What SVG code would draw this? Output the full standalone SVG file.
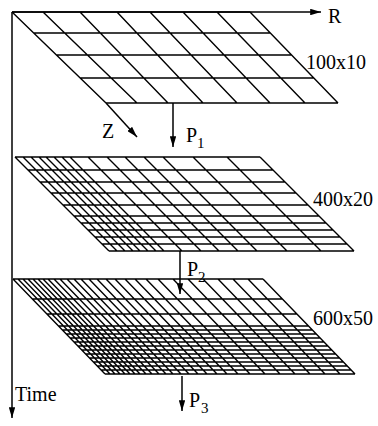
<svg xmlns="http://www.w3.org/2000/svg" width="378" height="426" viewBox="0 0 378 426">
<style>
.g{fill:none;stroke:#000;stroke-width:1.4}
.c{fill:none;stroke:#000;stroke-width:1.5}
.t{font-family:"Liberation Serif","Times New Roman",serif;font-size:20px;fill:#000}
.s{font-family:"Liberation Serif","Times New Roman",serif;font-size:15px;fill:#000}
</style>
<defs>
<marker id="ah" viewBox="0 0 10 6" refX="10" refY="3" markerWidth="11" markerHeight="6.5" markerUnits="userSpaceOnUse" orient="auto">
<path d="M0 0L10 3L0 6z" fill="#000"/>
</marker>
</defs>
<rect width="378" height="426" fill="#fff"/>
<g id="grid1">
<path class="g" d="M12 12H250M33.7 33H270.3M56.4 55H291.6M80.2 78H313.8M106 103H338M12 12L106 103M43 12L137 103M80 12L168 103M117 12L203 103M150 12L237 103M183 12L270 103M217 12L305 103M250 12L338 103"/>
<text class="t" x="306" y="69">100x10</text>
</g>
<g id="grid2">
<path class="g" d="M15 157H260M28 170H273M40 182H285M51 193H296M63 205H308M74 216H319M81 223H326M88 230H333M95 237H340M102 244H347M109 251H354M15 157l94 94M23 157l94 94M31 157l94 94M39 157l94 94M46 157l94 94M54 157l94 94M62 157l94 94M70 157l94 94M88 157l94 94M107 157l94 94M125 157l94 94M144 157l94 94M163 157l94 94M193 157l94 94M227 157l94 94M260 157l94 94"/>
<text class="t" x="313" y="206">400x20</text>
</g>
<g id="grid3">
<path class="g" d="M13 279H263M32.4 299H282.4M46.9 314H296.9M58.5 326H308.5M62.4 330H312.4M66.2 334H316.2M70.1 338H320.1M74 342H324M77.9 346H327.9M81.7 350H331.7M85.6 354H335.6M89.5 358H339.5M93.3 362H343.3M97.2 366H347.2M101.1 370H351.1M105 374H355M13 279l92 95M18 279l92 95M23 279l92 95M28 279l92 95M33 279l92 95M38 279l92 95M43 279l92 95M48 279l92 95M54 279l92 95M60 279l92 95M67 279l92 95M74 279l92 95M81 279l92 95M89 279l92 95M97 279l92 95M106 279l92 95M115 279l92 95M125 279l92 95M135 279l92 95M146 279l92 95M158 279l92 95M173 279l92 95M188 279l92 95M203 279l92 95M218 279l92 95M233 279l92 95M248 279l92 95M263 279l92 95"/>
<text class="t" x="313" y="325">600x50</text>
</g>
<g id="connectors">
<path class="c" d="M12 12V418" marker-end="url(#ah)"/>
<path class="c" d="M12 12H321" marker-end="url(#ah)"/>
<path class="c" d="M106 103L137 137" marker-end="url(#ah)"/>
<path class="c" d="M173 103V147" marker-end="url(#ah)"/>
<path class="c" d="M180 251V294" marker-end="url(#ah)"/>
<path class="c" d="M182 376V411" marker-end="url(#ah)"/>
</g>
<g id="labels">
<text class="t" x="328" y="23">R</text>
<text class="t" x="102" y="138">Z</text>
<text class="t" x="186" y="142">P</text><text class="s" x="197" y="148">1</text>
<text class="t" x="187" y="276">P</text><text class="s" x="198" y="282">2</text>
<text class="t" x="189" y="407">P</text><text class="s" x="201" y="413">3</text>
<text class="t" x="15" y="401">Time</text>
</g>
</svg>
